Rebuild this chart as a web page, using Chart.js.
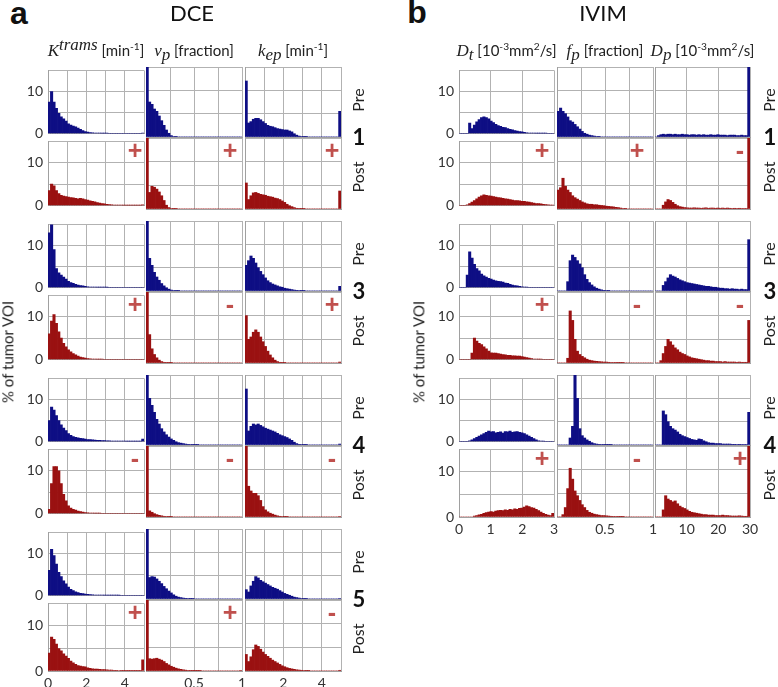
<!DOCTYPE html>
<html>
<head>
<meta charset="utf-8">
<script src="https://cdn.jsdelivr.net/npm/chart.js@4.4.1/dist/chart.umd.min.js"></script>
<style>
  body { margin: 0; background: #fff; }
  #fig { position: relative; width: 778px; height: 687px; overflow: hidden; background: #fff; font-family: Lato, "Open Sans", sans-serif; color: #222; }
  #fig canvas { position: absolute; }
  .t { position: absolute; white-space: nowrap; transform: translate(-50%, -50%); line-height: 1.15; z-index: 5; }
  .rot { transform: translate(-50%, -50%) rotate(-90deg); }
  .m { font-family: "Liberation Serif", "DejaVu Serif", serif; font-style: italic; font-size: 17px; }
  sup, sub { font-size: 0.68em; line-height: 0; }
  .sign { color: #c0504d; font-family: "Liberation Sans", Arial, sans-serif; font-weight: bold; font-size: 25px; }
</style>
</head>
<body>
<div id="fig"></div>
<script>
// ---- histogram values (% of tumor VOI), 40 bins per histogram ----
// DCE: Ktrans (0..5 min-1)
const ktransPre1  = [7.5, 10, 7.5, 6, 4.8, 4, 3.5, 3, 2.3, 2, 1.8, 1.6, 1.3, 1, 0.7, 0.5, 0.35, 0.25, 0.2, 0.15, 0.1, 0.08, 0.05, 0.03, 0.02, 0, 0, 0, 0, 0, 0, 0, 0, 0, 0, 0, 0, 0, 0, 0.1];
const ktransPost1 = [3.5, 5, 4.6, 3.5, 2.8, 2.4, 2.2, 2.1, 2.0, 1.9, 1.8, 1.7, 1.6, 1.7, 1.6, 1.4, 1.3, 1.1, 1.0, 0.9, 0.7, 0.6, 0.5, 0.4, 0.3, 0.25, 0.2, 0.15, 0.1, 0.1, 0.15, 0.05, 0.05, 0.05, 0.02, 0.02, 0.02, 0.02, 0.02, 0.2];
const ktransPre3  = [13, 17, 9, 4.5, 3.5, 3, 2.5, 2, 1.5, 1.2, 1, 0.8, 0.6, 0.5, 0.4, 0.3, 0.2, 0.15, 0.1, 0.1, 0.05, 0.05, 0.03, 0.02, 0.01, 0, 0, 0, 0, 0, 0, 0, 0, 0, 0, 0, 0, 0, 0, 0];
const ktransPost3 = [6, 9, 10.5, 8.5, 6.5, 5, 3.8, 3, 2.3, 1.8, 1.4, 1.1, 0.8, 0.6, 0.45, 0.35, 0.25, 0.2, 0.12, 0.08, 0.05, 0.03, 0.02, 0, 0, 0, 0, 0, 0, 0, 0, 0, 0, 0, 0, 0, 0, 0, 0, 0];
const ktransPre4  = [5, 8.2, 7.5, 6.2, 5, 4, 3.2, 2.6, 1.9, 1.5, 1.2, 1.0, 0.9, 0.8, 0.7, 0.6, 0.5, 0.5, 0.4, 0.35, 0.3, 0.3, 0.25, 0.25, 0.2, 0.2, 0.15, 0.15, 0.1, 0.1, 0.08, 0.08, 0.05, 0.05, 0.05, 0.03, 0.03, 0.02, 0.02, 0.6];
const ktransPost4 = [1, 7, 11, 11, 10, 7, 4.5, 3, 1.8, 1.3, 1, 0.8, 0.6, 0.45, 0.35, 0.25, 0.2, 0.12, 0.08, 0.05, 0.03, 0.02, 0, 0, 0, 0, 0, 0, 0, 0, 0, 0, 0, 0, 0, 0, 0, 0, 0, 0];
const ktransPre5  = [6, 11, 9.5, 7.5, 5.5, 4.5, 3.5, 2.8, 2.0, 1.5, 1.2, 0.9, 0.7, 0.55, 0.45, 0.35, 0.3, 0.25, 0.2, 0.15, 0.1, 0.1, 0.08, 0.06, 0.05, 0.04, 0.03, 0.02, 0.02, 0.01, 0, 0, 0, 0, 0, 0, 0, 0, 0, 0];
const ktransPost5 = [4, 7.5, 7, 6, 5, 4.5, 3.8, 3.3, 2.8, 2.2, 1.8, 1.5, 1.2, 1.1, 1.0, 0.9, 0.7, 0.6, 0.5, 0.45, 0.4, 0.35, 0.3, 0.3, 0.25, 0.2, 0.2, 0.15, 0.15, 0.12, 0.1, 0.1, 0.1, 0.08, 0.08, 0.06, 0.05, 0.05, 0.05, 2.5];

// DCE: vp (0..1 fraction)
const vpPre1  = [15, 7.5, 7, 6, 5.5, 4.5, 3.5, 2.5, 1.5, 0.8, 0.3, 0.1, 0.05, 0, 0, 0, 0, 0, 0, 0, 0, 0, 0, 0, 0, 0, 0, 0, 0, 0, 0, 0, 0, 0, 0, 0, 0, 0, 0, 0];
const vpPost1 = [15, 3.5, 4.8, 4.6, 4.2, 3.6, 2.8, 1.8, 0.8, 0.3, 0.1, 0.05, 0.02, 0, 0, 0, 0, 0, 0, 0, 0, 0, 0, 0, 0, 0, 0, 0, 0, 0, 0, 0, 0, 0, 0, 0, 0, 0, 0, 0];
const vpPre3  = [15, 7, 5.5, 4, 3, 2.3, 1.6, 1.1, 0.7, 0.4, 0.2, 0.1, 0.05, 0.02, 0, 0, 0, 0, 0, 0, 0, 0, 0, 0, 0, 0, 0, 0, 0, 0, 0, 0, 0, 0, 0, 0, 0, 0, 0, 0];
const vpPost3 = [15, 6, 3, 1.8, 1.1, 0.6, 0.3, 0.15, 0.08, 0.05, 0.02, 0, 0, 0, 0, 0, 0, 0, 0, 0, 0, 0, 0, 0, 0, 0, 0, 0, 0, 0, 0, 0, 0, 0, 0, 0, 0, 0, 0, 0];
const vpPre4  = [15, 10, 8.5, 7, 5.5, 4.5, 3.5, 2.8, 2.2, 1.7, 1.3, 1.0, 0.7, 0.5, 0.4, 0.3, 0.2, 0.15, 0.1, 0.05, 0.03, 0.02, 0, 0, 0, 0, 0, 0, 0, 0, 0, 0, 0, 0, 0, 0, 0, 0, 0, 0];
const vpPost4 = [15, 1.3, 1, 0.7, 0.5, 0.35, 0.25, 0.15, 0.1, 0.05, 0.03, 0, 0, 0, 0, 0, 0, 0, 0, 0, 0, 0, 0, 0, 0, 0, 0, 0, 0, 0, 0, 0, 0, 0, 0, 0, 0, 0, 0, 0];
const vpPre5  = [15, 4.6, 4.8, 4.7, 4.3, 3.8, 3.3, 2.7, 2.2, 1.7, 1.3, 0.9, 0.6, 0.4, 0.3, 0.2, 0.15, 0.1, 0.05, 0.03, 0, 0, 0, 0, 0, 0, 0, 0, 0, 0, 0, 0, 0, 0, 0, 0, 0, 0, 0, 0];
const vpPost5 = [15, 2.6, 2.5, 2.6, 2.7, 2.5, 2.3, 2.0, 1.6, 1.3, 1.0, 0.8, 0.6, 0.45, 0.35, 0.25, 0.18, 0.12, 0.08, 0.05, 0.03, 0.02, 0.01, 0, 0, 0, 0, 0, 0, 0, 0, 0, 0, 0, 0, 0, 0, 0, 0, 0.1];

// DCE: kep (0..5 min-1)
const kepPre1  = [12, 3, 3.3, 3.8, 4, 4, 3.7, 3.3, 2.9, 2.5, 2.3, 2.2, 2.0, 1.8, 1.7, 1.6, 1.5, 1.5, 1.3, 1.1, 0.7, 0.4, 0.2, 0.1, 0.05, 0.02, 0, 0, 0, 0, 0, 0, 0, 0, 0, 0, 0, 0, 0, 5.5];
const kepPost1 = [5.5, 2, 2.8, 3.4, 3.5, 3.3, 3.1, 3.0, 2.9, 2.7, 2.6, 2.5, 2.3, 2.2, 2.0, 1.7, 1.4, 1.0, 0.7, 0.5, 0.3, 0.15, 0.08, 0.05, 0.02, 0, 0, 0, 0, 0, 0, 0, 0, 0, 0, 0, 0, 0, 0, 3.8];
const kepPre3  = [5.5, 6.5, 7.5, 7, 6, 5, 4.2, 3.5, 2.8, 2.2, 1.8, 1.5, 1.3, 1.1, 0.9, 0.8, 0.6, 0.5, 0.4, 0.3, 0.2, 0.15, 0.1, 0.05, 0.02, 0, 0, 0, 0, 0, 0, 0, 0, 0, 0, 0, 0, 0, 0, 1];
const kepPost3 = [10, 5, 5.5, 6.5, 7, 6.5, 5.5, 4.5, 3.5, 2.5, 1.7, 1.1, 0.6, 0.3, 0.15, 0.05, 0.02, 0, 0, 0, 0, 0, 0, 0, 0, 0, 0, 0, 0, 0, 0, 0, 0, 0, 0, 0, 0, 0, 0, 0.2];
const kepPre4  = [12, 3, 4, 4.5, 4.3, 4.5, 4.2, 3.9, 3.6, 3.4, 3.2, 3.0, 2.8, 2.5, 2.2, 2.0, 1.8, 1.6, 1.3, 1.0, 0.6, 0.3, 0.15, 0.1, 0.05, 0.03, 0, 0, 0, 0, 0, 0, 0, 0, 0, 0, 0, 0, 0, 0.2];
const kepPost4 = [15, 6.5, 5.5, 5, 5, 4.5, 3.5, 2.2, 1.5, 1.1, 0.8, 0.6, 0.4, 0.25, 0.15, 0.1, 0.05, 0.02, 0, 0, 0, 0, 0, 0, 0, 0, 0, 0, 0, 0, 0, 0, 0, 0, 0, 0, 0, 0, 0, 0.1];
const kepPre5  = [2, 1.5, 2.8, 3.8, 4.8, 4.5, 4.0, 3.7, 3.4, 3.1, 2.8, 2.5, 2.3, 2.1, 1.8, 1.5, 1.2, 1.0, 0.8, 0.6, 0.4, 0.3, 0.2, 0.1, 0.05, 0.02, 0, 0, 0, 0, 0, 0, 0, 0, 0, 0, 0, 0, 0, 0.1];
const kepPost5 = [3.5, 2, 3, 4.5, 5.5, 5.2, 4.6, 4.0, 3.5, 3.1, 2.7, 2.3, 2.0, 1.7, 1.4, 1.1, 0.9, 0.7, 0.55, 0.45, 0.35, 0.25, 0.2, 0.15, 0.1, 0.05, 0.02, 0, 0, 0, 0, 0, 0, 0, 0, 0, 0, 0, 0, 0.15];

// IVIM: Dt (0..3 x10^-3 mm2/s)
const dtPre1  = [0, 0, 0, 0, 2.5, 1.2, 2, 2.8, 3.3, 3.8, 4, 3.8, 3.5, 3.0, 2.6, 2.2, 1.9, 1.7, 1.5, 1.4, 1.2, 1.0, 0.9, 0.7, 0.6, 0.5, 0.4, 0.3, 0.2, 0.15, 0.1, 0.1, 0.05, 0.05, 0.05, 0.03, 0.02, 0, 0, 0];
const dtPost1 = [0, 0, 0, 0.2, 0.5, 0.8, 1.2, 1.6, 2, 2.3, 2.5, 2.4, 2.3, 2.2, 2.1, 2.0, 1.9, 1.8, 1.7, 1.6, 1.5, 1.4, 1.3, 1.2, 1.15, 1.1, 1.0, 1.0, 0.9, 0.8, 0.7, 0.6, 0.5, 0.45, 0.4, 0.3, 0.25, 0.2, 0.15, 0.1];
const dtPre3  = [0, 0, 0, 3, 8.5, 7, 5.5, 4.5, 4, 3.2, 2.8, 2.5, 2.2, 2.0, 1.8, 1.6, 1.5, 1.4, 1.3, 1.1, 1.0, 0.8, 0.6, 0.5, 0.4, 0.3, 0.2, 0.1, 0.05, 0, 0, 0, 0, 0, 0, 0, 0, 0, 0, 0];
const dtPost3 = [0, 0, 0, 0, 0, 1.5, 5, 4.3, 3.8, 3.5, 3.0, 2.5, 2.0, 1.6, 1.5, 1.5, 1.4, 1.3, 1.2, 1.1, 1.0, 1.0, 0.9, 0.9, 0.8, 0.8, 0.7, 0.6, 0.5, 0.35, 0.25, 0.15, 0.1, 0.05, 0.02, 0, 0, 0, 0, 0];
const dtPre4  = [0, 0, 0, 0, 0.2, 0.4, 0.7, 1.0, 1.3, 1.6, 1.9, 2.2, 2.5, 2.3, 2.4, 2.1, 2.2, 2.3, 2.0, 2.4, 2.3, 2.5, 2.2, 2.3, 2.4, 2.2, 2.1, 1.9, 1.6, 1.3, 1.0, 0.7, 0.4, 0.2, 0.1, 0.05, 0, 0, 0, 0];
const dtPost4 = [0, 0, 0, 0, 0, 0, 0.2, 0.3, 0.5, 0.6, 0.8, 1.0, 1.1, 1.2, 1.1, 1.3, 1.4, 1.5, 1.4, 1.6, 1.5, 1.7, 1.6, 1.8, 1.7, 1.9, 2.0, 2.2, 2.5, 2.3, 2.1, 2.0, 1.7, 1.4, 1.1, 0.8, 0.6, 0.4, 0.3, 0.8];

// IVIM: fp (0..1 fraction)
const fpPre1  = [5.5, 6.2, 5.5, 5, 4.3, 3.5, 3.2, 2.7, 2.2, 1.7, 1.2, 0.8, 0.6, 0.4, 0.3, 0.2, 0.1, 0.05, 0, 0, 0, 0, 0, 0, 0, 0, 0, 0, 0, 0, 0, 0, 0, 0, 0, 0, 0, 0, 0, 0];
const fpPost1 = [4, 4.5, 6.5, 4.8, 4, 3.5, 2.8, 2.4, 2.1, 1.8, 1.5, 1.3, 1.1, 1.0, 1.0, 0.9, 0.9, 0.8, 0.75, 0.7, 0.6, 0.55, 0.5, 0.45, 0.35, 0.3, 0.2, 0.1, 0.05, 0, 0, 0, 0, 0, 0, 0, 0, 0, 0, 0];
const fpPre3  = [0, 0, 0, 0, 2, 6.5, 7.7, 7.2, 6.5, 5.8, 5, 3.5, 2.5, 1.8, 1.3, 0.9, 0.6, 0.4, 0.25, 0.15, 0.1, 0.05, 0, 0, 0, 0, 0, 0, 0, 0, 0, 0, 0, 0, 0, 0, 0, 0, 0, 0];
const fpPost3 = [0, 0, 0, 0, 1, 11, 9, 5, 2.5, 1.8, 1.4, 1.1, 0.8, 0.6, 0.5, 0.4, 0.35, 0.3, 0.25, 0.2, 0.2, 0.15, 0.12, 0.1, 0.08, 0.05, 0.03, 0.02, 0, 0, 0, 0, 0, 0, 0, 0, 0, 0, 0, 0];
const fpPre4  = [0, 0, 0, 0, 0, 1.5, 4, 15.5, 10, 3.5, 2, 1.5, 1.1, 0.8, 0.5, 0.3, 0.2, 0.15, 0.1, 0.08, 0.05, 0.03, 0.02, 0, 0, 0, 0, 0, 0, 0, 0, 0, 0, 0, 0, 0, 0, 0, 0, 0];
const fpPost4 = [0, 0, 0.5, 2, 6, 10.3, 8, 5.5, 4.5, 3.5, 2.6, 2, 1.4, 1.0, 0.8, 0.6, 0.5, 0.4, 0.3, 0.3, 0.25, 0.2, 0.15, 0.12, 0.1, 0.08, 0.05, 0.03, 0, 0, 0, 0, 0, 0, 0, 0, 0, 0, 0, 0];

// IVIM: Dp (0..30 x10^-3 mm2/s)
const dpPre1  = [0, 0.3, 0.5, 0.6, 0.5, 0.6, 0.6, 0.5, 0.6, 0.5, 0.5, 0.6, 0.5, 0.5, 0.4, 0.5, 0.5, 0.4, 0.5, 0.4, 0.5, 0.4, 0.4, 0.5, 0.4, 0.4, 0.5, 0.4, 0.4, 0.4, 0.3, 0.4, 0.4, 0.4, 0.3, 0.3, 0.4, 0.3, 0.3, 15.5];
const dpPost1 = [0, 0, 0, 0.8, 1.5, 2, 1.8, 1.4, 1.0, 0.7, 0.5, 0.4, 0.3, 0.25, 0.2, 0.2, 0.25, 0.2, 0.2, 0.15, 0.2, 0.25, 0.15, 0.2, 0.2, 0.15, 0.2, 0.15, 0.2, 0.15, 0.2, 0.15, 0.1, 0.15, 0.1, 0.15, 0.1, 0.1, 0.1, 15.5];
const dpPre3  = [0, 0, 0, 1.2, 2, 2.8, 3.5, 3.2, 3, 2.7, 2.4, 2.2, 2, 1.8, 1.7, 1.6, 1.5, 1.4, 1.3, 1.2, 1.1, 1.0, 1.0, 0.9, 0.8, 0.8, 0.7, 0.6, 0.6, 0.5, 0.5, 0.4, 0.5, 0.4, 0.4, 0.3, 0.4, 0.3, 0.3, 11];
const dpPost3 = [0, 0, 0.5, 2, 3.5, 5, 4.5, 3.8, 3.2, 2.8, 2.3, 2.0, 1.8, 1.5, 1.3, 1.1, 1.0, 0.9, 0.8, 0.7, 0.6, 0.5, 0.5, 0.4, 0.4, 0.3, 0.3, 0.3, 0.2, 0.3, 0.2, 0.2, 0.2, 0.2, 0.15, 0.2, 0.15, 0.15, 0.15, 9];
const dpPre4  = [0, 0, 0, 7.3, 6.5, 5, 4, 3.5, 3.2, 2.8, 2.3, 2, 1.8, 1.6, 1.4, 1.2, 1.1, 1.0, 1.3, 1.2, 0.9, 0.7, 0.5, 0.4, 0.4, 0.3, 0.3, 0.3, 0.2, 0.2, 0.2, 0.2, 0.15, 0.15, 0.1, 0.15, 0.1, 0.1, 0.1, 7];
const dpPost4 = [0, 0, 0, 1.5, 4.5, 3.8, 3.5, 3.2, 3.4, 2.8, 2.3, 2.0, 1.8, 1.5, 1.2, 1.0, 0.9, 0.8, 0.7, 0.6, 0.5, 0.5, 0.4, 0.4, 0.4, 0.3, 0.3, 0.3, 0.4, 0.3, 0.3, 0.25, 0.2, 0.2, 0.2, 0.25, 0.2, 0.15, 0.15, 15.5];

// ---- labels ----
const patientsA = ["1", "3", "4", "5"];
const patientsB = ["1", "3", "4"];
const signsA = [["+", "+", "+"], ["+", "-", "+"], ["-", "-", "-"], ["+", "+", "-"]];
const signsB = [["+", "+", "-"], ["+", "-", "-"], ["+", "-", "+"]];
const yTickLabels = [0, 10];

const headersA = [
  '<span class="m">K</span><sup class="m">trams</sup> [min<sup>-1</sup>]',
  '<span class="m">v</span><sub class="m">p</sub> [fraction]',
  '<span class="m">k</span><sub class="m">ep</sub> [min<sup>-1</sup>]'
];
const headersB = [
  '<span class="m">D</span><sub class="m">t</sub> [10<sup>-3</sup>mm<sup>2</sup>/s]',
  '<span class="m">f</span><sub class="m">p</sub> [fraction]',
  '<span class="m">D</span><sub class="m">p</sub> [10<sup>-3</sup>mm<sup>2</sup>/s]'
];

// ---- layout ----
const PRE_COLOR = "#0e0e84";
const POST_COLOR = "#9a1111";
const GRID = "#b2b2b2";
const FRAME = "#a0a0a0";
const FONT = "Lato, 'Open Sans', sans-serif";
const NBINS = 40;

const preTop = 67, preH = 70, postTop = 138, postH = 71, pairStep = 154;

const colsA = [
  { left: 48, width: 96, min: 0, max: 5, step: 1, xLabels: [0, 2, 4], signDx: 9,
    pre: [ktransPre1, ktransPre3, ktransPre4, ktransPre5], post: [ktransPost1, ktransPost3, ktransPost4, ktransPost5] },
  { left: 146, width: 96, min: 0, max: 1, step: 0.25, xLabels: [0.5, 1], signDx: 12,
    pre: [vpPre1, vpPre3, vpPre4, vpPre5], post: [vpPost1, vpPost3, vpPost4, vpPost5] },
  { left: 245, width: 96, min: 0, max: 5, step: 1, xLabels: [2, 4], signDx: 9,
    pre: [kepPre1, kepPre3, kepPre4, kepPre5], post: [kepPost1, kepPost3, kepPost4, kepPost5] }
];
const colsB = [
  { left: 459, width: 95, min: 0, max: 3, step: 1, xLabels: [0, 1, 2, 3], signDx: 12,
    pre: [dtPre1, dtPre3, dtPre4], post: [dtPost1, dtPost3, dtPost4] },
  { left: 557, width: 96, min: 0, max: 1, step: 0.25, xLabels: [0.5, 1], signDx: 16,
    pre: [fpPre1, fpPre3, fpPre4], post: [fpPost1, fpPost3, fpPost4] },
  { left: 655, width: 95, min: 0, max: 30, step: 10, xLabels: [10, 20, 30], signDx: 10,
    pre: [dpPre1, dpPre3, dpPre4], post: [dpPost1, dpPost3, dpPost4] }
];

const fig = document.getElementById("fig");

function addText(html, cx, cy, style, cls) {
  const d = document.createElement("div");
  d.className = "t" + (cls ? " " + cls : "");
  d.innerHTML = html;
  d.style.left = cx + "px";
  d.style.top = cy + "px";
  if (style) d.style.cssText += style;
  fig.appendChild(d);
}

function hist(o) {
  const padL = o.showY ? 40 : 10, padR = 16, padT = 10, padB = o.showX ? 30 : 10;
  const yW = o.showY ? 30 : 0, xH = o.showX ? 20 : 0;
  const W = o.width + padL + padR, H = o.height + padT + padB;
  const c = document.createElement("canvas");
  c.width = W; c.height = H;
  c.style.left = (o.left - padL) + "px";
  c.style.top = (o.top - padT) + "px";
  c.style.width = W + "px";
  c.style.height = H + "px";
  fig.appendChild(c);

  const bw = (o.max - o.min) / NBINS;
  const pts = o.values.map((v, i) => ({ x: o.min + (i + 0.5) * bw, y: v }));
  const tickFont = { family: FONT, size: 14 };

  return new Chart(c, {
    type: "bar",
    data: { datasets: [{ data: pts, backgroundColor: o.color, borderWidth: 0, barPercentage: 1, categoryPercentage: 1 }] },
    options: {
      responsive: false,
      animation: false,
      events: [],
      layout: { padding: { left: padL - yW, right: padR, top: padT, bottom: padB - xH } },
      plugins: { legend: { display: false }, tooltip: { enabled: false } },
      scales: {
        x: {
          type: "linear", min: o.min, max: o.max, offset: false,
          grid: { color: GRID, drawTicks: false, offset: false },
          border: { color: FRAME },
          ticks: {
            display: o.showX, stepSize: o.step, autoSkip: false, maxRotation: 0, padding: 4,
            font: tickFont, color: "#333",
            callback: (v) => o.xLabels.some((l) => Math.abs(l - v) < 1e-6) ? String(v) : ""
          },
          afterFit: (s) => { s.height = xH; }
        },
        y: {
          min: 0, max: 15,
          grid: { color: GRID, drawTicks: false },
          border: { color: FRAME },
          ticks: {
            display: o.showY, stepSize: 5, padding: 5, font: tickFont, color: "#333",
            callback: (v) => yTickLabels.includes(v) ? String(v) : ""
          },
          afterFit: (s) => { s.width = yW; }
        }
      }
    }
  });
}

function panel(cols, patients, signs, labelX) {
  const nRows = patients.length;
  cols.forEach((col, ci) => {
    for (let r = 0; r < nRows; r++) {
      const off = r * pairStep;
      hist({ left: col.left, width: col.width, top: preTop + off, height: preH, min: col.min, max: col.max,
             step: col.step, xLabels: col.xLabels, values: col.pre[r], color: PRE_COLOR,
             showY: ci === 0, showX: false });
      hist({ left: col.left, width: col.width, top: postTop + off, height: postH, min: col.min, max: col.max,
             step: col.step, xLabels: col.xLabels, values: col.post[r], color: POST_COLOR,
             showY: ci === 0, showX: r === nRows - 1 });
      addText(signs[r][ci], col.left + col.width - col.signDx, postTop + off + 12, "", "sign");
    }
  });
  for (let r = 0; r < nRows; r++) {
    const off = r * pairStep;
    addText("Pre", labelX, 100 + off, "font-size:16px;", "rot");
    addText("Post", labelX, 177 + off, "font-size:16px;", "rot");
    addText(patients[r], labelX + 1, 137 + off, "font-size:22px;font-weight:bold;color:#111;");
  }
}

panel(colsA, patientsA, signsA, 358);
panel(colsB, patientsB, signsB, 769);

// titles and headers
addText("a", 19, 13, "font-family:'Liberation Sans',Arial,sans-serif;font-weight:bold;font-size:32px;color:#111;");
addText("DCE", 192, 13, "font-size:22px;color:#111;");
addText("b", 417, 12, "font-family:'Liberation Sans',Arial,sans-serif;font-weight:bold;font-size:32px;color:#111;");
addText("IVIM", 603, 13, "font-size:22px;color:#111;");
headersA.forEach((h, i) => addText(h, colsA[i].left + colsA[i].width / 2, 51, "font-size:15px;"));
headersB.forEach((h, i) => addText(h, colsB[i].left + colsB[i].width / 2, 51, "font-size:15px;"));
addText("% of tumor VOI", 8, 352, "font-size:15px;", "rot");
addText("% of tumor VOI", 419, 352, "font-size:15px;", "rot");
</script>
</body>
</html>
